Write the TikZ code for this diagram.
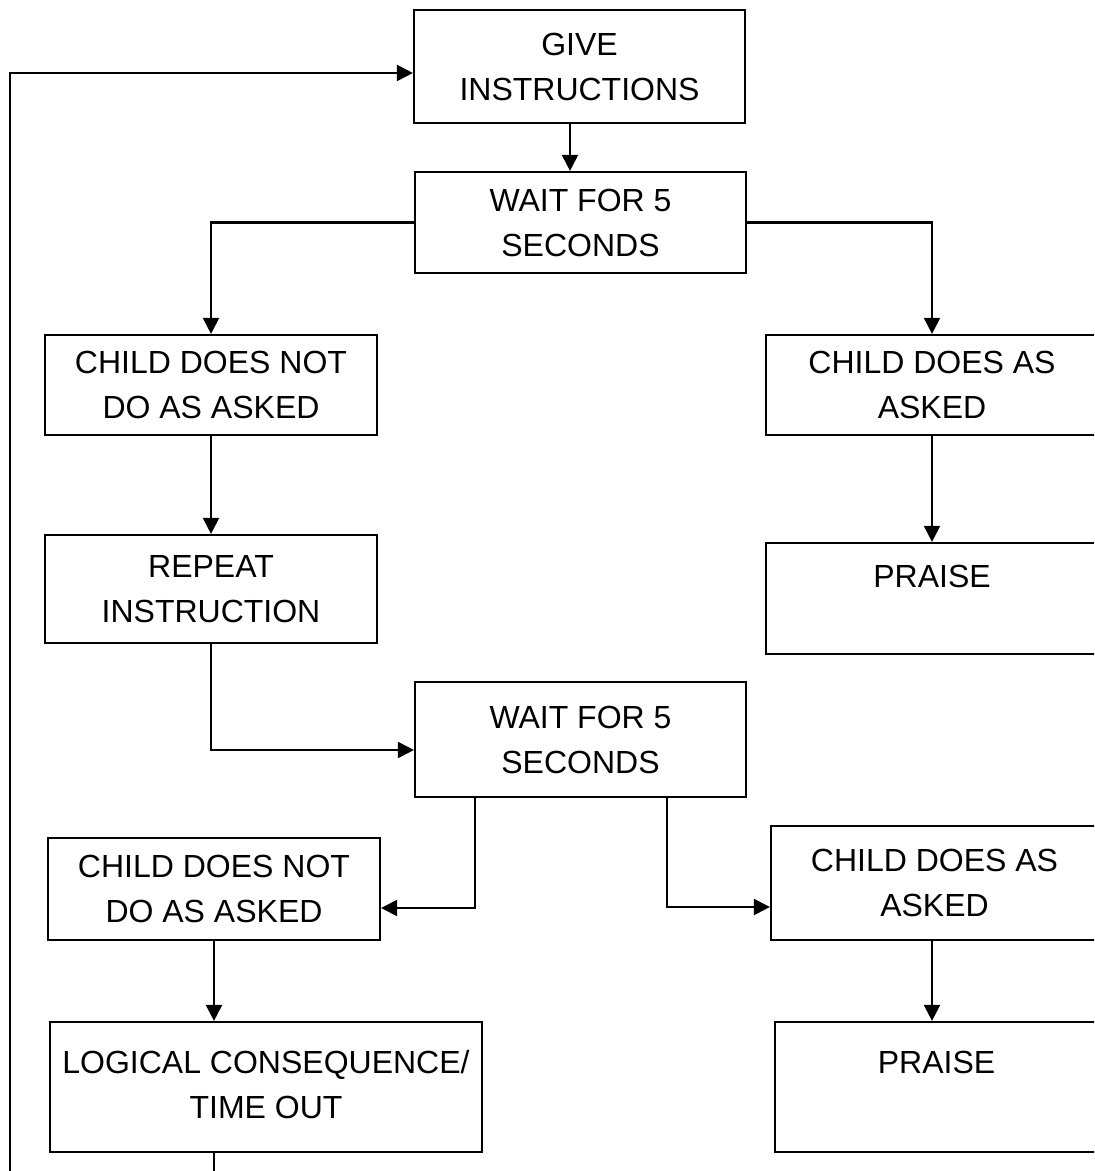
\documentclass[tikz,border=0pt]{standalone}
\usepackage{fontspec}
\setmainfont{Liberation Sans}
\usetikzlibrary{arrows.meta,calc}

\begin{document}
\begin{tikzpicture}[x=0.5pt,y=-0.5pt, line width=1.1pt,
    >={Triangle[length=8pt,width=8pt]},
    box/.style={draw, align=center, inner sep=0pt,
      font=\fontsize{16}{22.5}\selectfont}]
  \useasboundingbox (0,0) rectangle (1094,1171);
  \clip (0,0) rectangle (1094,1171);
  % first round
  \node[box, minimum width=165.5pt, minimum height=56.5pt] (give) at (579.5,66.5) {GIVE\\INSTRUCTIONS};
  \node[box, minimum width=165.5pt, minimum height=50.5pt] (wait1) at (580.5,222.5) {\raisebox{-3pt}{WAIT FOR 5}\\\raisebox{-3pt}{SECONDS}};
  \node[box, minimum width=166pt, minimum height=50pt] (notdo1) at (211,385) {\raisebox{-2.5pt}{CHILD DOES NOT}\\\raisebox{-2.5pt}{DO AS ASKED}};
  \node[box, minimum width=166pt, minimum height=50pt] (does1) at (932,385) {\raisebox{-2.5pt}{CHILD DOES AS}\\\raisebox{-2.5pt}{ASKED}};
  \node[box, minimum width=166pt, minimum height=54pt] (repeat) at (211,589) {REPEAT\\INSTRUCTION};
  \node[box, minimum width=166pt, minimum height=55.5pt] (praise1) at (932,598.5) {PRAISE\\\mbox{}};
  % second round
  \node[box, minimum width=165.5pt, minimum height=57.5pt] (wait2) at (580.5,739.5) {WAIT FOR 5\\SECONDS};
  \node[box, minimum width=166pt, minimum height=51pt] (notdo2) at (214,889) {\raisebox{-3pt}{CHILD DOES NOT}\\\raisebox{-3pt}{DO AS ASKED}};
  \node[box, minimum width=163.5pt, minimum height=57pt] (does2) at (934.5,883) {CHILD DOES AS\\ASKED};
  \node[box, minimum width=216pt, minimum height=65pt] (timeout) at (266,1087) {\raisebox{2.5pt}{LOGICAL CONSEQUENCE/}\\\raisebox{2.5pt}{TIME OUT}};
  \node[box, minimum width=161.5pt, minimum height=65pt] (praise2) at (936.5,1087) {\raisebox{2.5pt}{PRAISE}\\\mbox{}};
  \coordinate (loopb) at (10,1200);
  \coordinate (loopt) at (10,73);

  \draw[->] ($(give.south)+(-9.5,0)$) -- ($(wait1.north)+(-10.5,0)$);
  \draw[->] (wait1.west) -| (notdo1.north);
  \draw[->] (wait1.east) -| (does1.north);
  \draw[->] (notdo1) -- (repeat);
  \draw[->] (does1) -- (praise1);
  \draw[->] (repeat.south) |- ($(wait2.west)+(0,10.5)$);
  \draw[->] ($(wait2.south)+(-105.5,0)$) |- ($(notdo2.east)+(0,19)$);
  \draw[->] ($(wait2.south)+(86.5,0)$) |- ($(does2.west)+(0,24)$);
  \draw[->] (notdo2.south) -- (notdo2.south |- timeout.north);
  \draw[->] ($(does2.south)+(-2.5,0)$) -- ($(does2.south |- praise2.north)+(-2.5,0)$);
  % back to the start
  \draw[->] (notdo2.south |- timeout.south) -- (notdo2.south |- loopb)
    -- (loopb) -- (loopt) -- (loopt -| give.west);
\end{tikzpicture}
\end{document}
